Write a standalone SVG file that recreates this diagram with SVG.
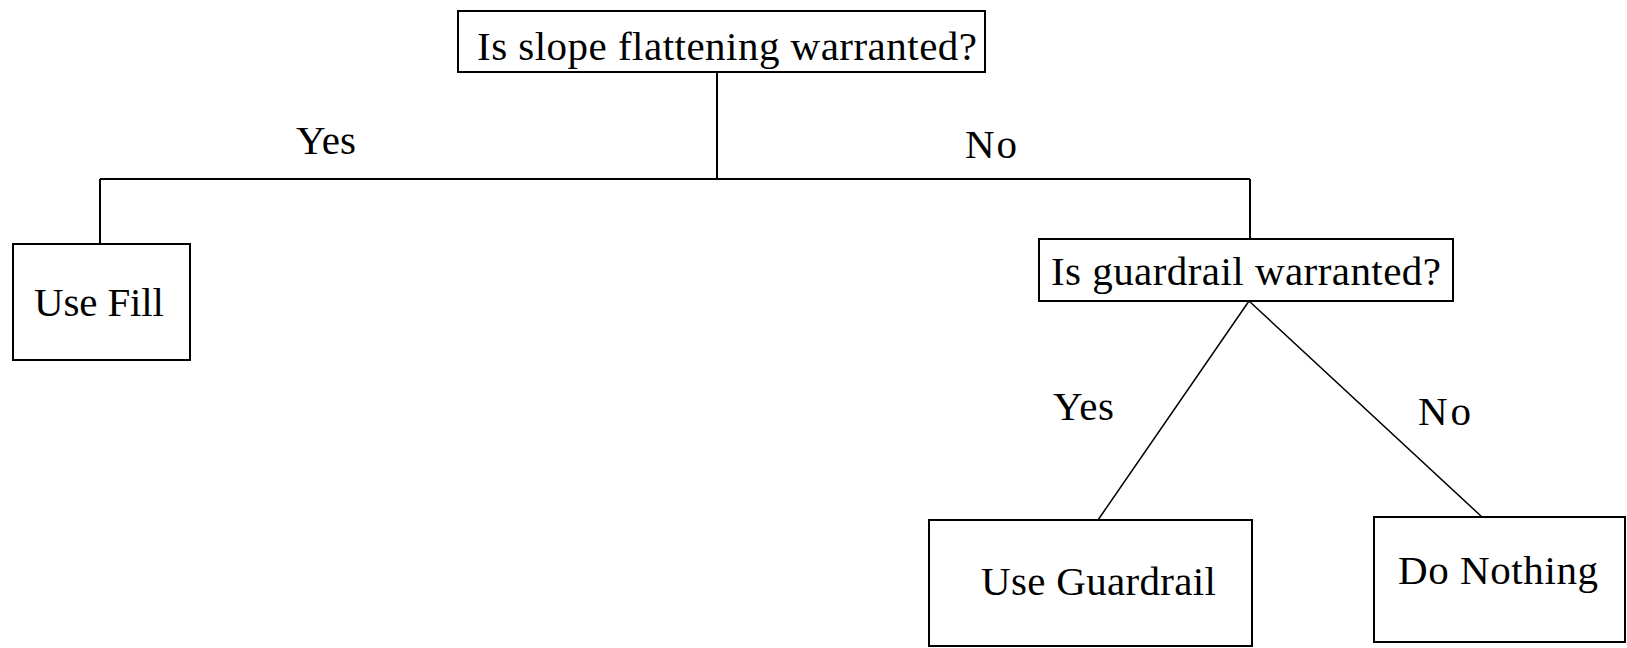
<svg xmlns="http://www.w3.org/2000/svg" width="1627" height="648" viewBox="0 0 1627 648">
<style>
.box{fill:#fff;stroke:#000;stroke-width:2}
.t{font-family:"Liberation Serif","Times New Roman",serif;font-size:41px;fill:#000}
.c{fill:none;stroke:#000;stroke-width:2}
.d{fill:none;stroke:#000;stroke-width:1.5}
</style>
<rect width="1627" height="648" fill="#fff"/>
<g id="connectors">
<path class="c" d="M717 72 V179 M100 179 H1250 M100 179 V244 M1250 179 V239"/>
<path class="d" d="M1249 301 L1098 520 M1249 301 L1482 517"/>
<text class="t" x="296" y="154" textLength="60">Yes</text>
<text class="t" x="965" y="158" textLength="52">No</text>
<text class="t" x="1053" y="420" textLength="61">Yes</text>
<text class="t" x="1418" y="425" textLength="53">No</text>
</g>
<g id="n-slope">
<rect class="box" x="458" y="11" width="527" height="61"/>
<text class="t" x="477" y="60" textLength="500">Is slope flattening warranted?</text>
</g>
<g id="n-fill">
<rect class="box" x="13" y="244" width="177" height="116"/>
<text class="t" x="34" y="316" textLength="130">Use Fill</text>
</g>
<g id="n-guardrailq">
<rect class="box" x="1039" y="239" width="414" height="62"/>
<text class="t" x="1051" y="285" textLength="390">Is guardrail warranted?</text>
</g>
<g id="n-useguardrail">
<rect class="box" x="929" y="520" width="323" height="126"/>
<text class="t" x="981" y="595" textLength="235">Use Guardrail</text>
</g>
<g id="n-nothing">
<rect class="box" x="1374" y="517" width="251" height="125"/>
<text class="t" x="1398" y="584" textLength="200">Do Nothing</text>
</g>
</svg>
